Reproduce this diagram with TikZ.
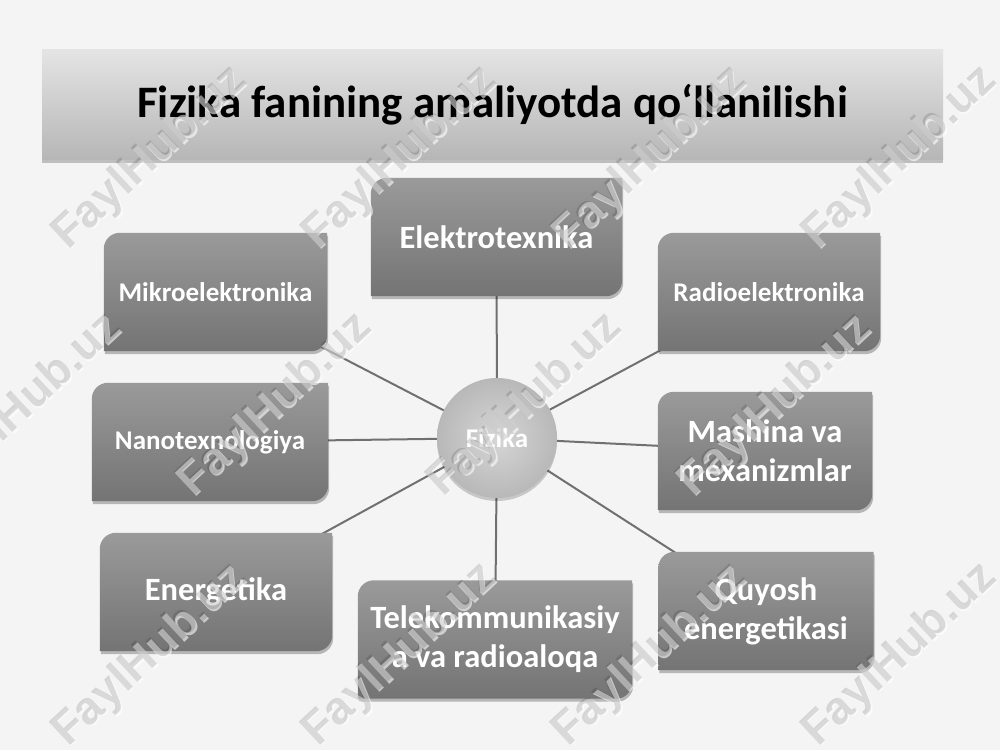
\documentclass[tikz,border=0pt]{standalone}
\usepackage{fontspec}
\setmainfont{Carlito}
\newfontfamily\wmfont{Liberation Sans}
\usetikzlibrary{shadows,calc}
\pgfdeclarelayer{back}
\pgfsetlayers{back,main}
\definecolor{bgc}{RGB}{244,244,244}
\definecolor{boxtop}{RGB}{154,154,154}
\definecolor{boxbot}{RGB}{116,116,116}
\definecolor{ttop}{RGB}{228,228,228}
\definecolor{tbot}{RGB}{182,182,182}
\definecolor{linec}{RGB}{112,112,112}
\definecolor{circin}{RGB}{214,214,214}
\definecolor{circout}{RGB}{184,184,184}
\newcommand\diagfill[1]{%
  \path[boxshade] ($(#1.north west)+(0,-16)$) arc[start angle=180,end angle=90,radius=16pt]
    -- (#1.north east) -- ($(#1.south east)+(0,16)$) arc[start angle=0,end angle=-90,radius=16pt]
    -- (#1.south west) -- cycle;}
\begin{document}
\begin{tikzpicture}[x=1pt,y=1pt,
  boxtext/.style={rectangle, inner sep=0pt, minimum height=118, text=white, align=center,
    font=\bfseries\fontsize{32.5}{39}\selectfont},
  smalltext/.style={boxtext, font=\bfseries\fontsize{27}{32}\selectfont},
  boxshade/.style={top color=boxtop, bottom color=boxbot,
    drop shadow={shadow xshift=1pt, shadow yshift=-3pt, opacity=.25, fill=black}},
  conn/.style={draw=linec, line width=2pt},
  wmshade/.style={rotate=43, font=\wmfont\bfseries\fontsize{46}{50}\selectfont, text=white, text opacity=.6},
  wmtext/.style={rotate=43, font=\wmfont\bfseries\fontsize{46}{50}\selectfont, text=black, text opacity=.13},
]
\useasboundingbox (0,0) rectangle (1000,750);

% title
\node[rectangle, minimum width=901, minimum height=110, inner sep=0pt,
  top color=ttop, bottom color=tbot,
  drop shadow={shadow xshift=0pt, shadow yshift=-3pt, opacity=.22, fill=black},
  font=\bfseries\fontsize{45}{50}\selectfont, text=black] (title) at (492.5,645)
  {Fizika fanining amaliyotda qo‘llanilishi};

% box texts
\node[boxtext, minimum width=251] (elek) at (496.5,513) {Elektrotexnika};
\node[smalltext, minimum width=223] (mik) at (215.5,458) {Mikroelektronika};
\node[smalltext, minimum width=222] (rad) at (769,458) {Radioelektronika};
\node[smalltext, minimum width=236] (nano) at (210,308) {Nanotexnologiya};
\node[boxtext, minimum width=214] (mash) at (765,299) {Mashina va\\mexanizmlar};
\node[boxtext, minimum width=232] (ener) at (216,158) {Energetika};
\node[boxtext, minimum width=274] (tele) at (495,110.5) {Telekommunikasiy\\a va radioaloqa};
\node[boxtext, minimum width=215] (quy) at (766,139) {Quyosh\\energetikasi};

% centre
\node[circle, minimum size=120, inner sep=0pt, inner color=circin, outer color=circout,
  drop shadow={shadow xshift=0pt, shadow yshift=-3pt, opacity=.18, fill=black},
  text=white, font=\bfseries\fontsize{27}{32}\selectfont] (fiz) at (497,312) {Fizika};

\begin{pgfonlayer}{back}
  \fill[bgc] (0,0) rectangle (1000,750);
  \foreach \n in {elek,mik,rad,nano,mash,ener,tele,quy}
    \draw[conn] (fiz.center) -- (\n.center);
  \foreach \n in {elek,mik,rad,nano,mash,ener,tele,quy}
    \diagfill{\n};
\end{pgfonlayer}

% watermarks
\foreach \x/\y [count=\i] in {150/592,400/592,650/592,900/592,25/345,275/345,525/345,775/345,150/95,400/95,650/95,900/95}{
  \node[wmshade] (wms\i) at (\x+1.5,\y-1.5) {FaylHub.uz};
  \node[wmtext] (wm\i) at (\x,\y) {FaylHub.uz};
}
\end{tikzpicture}
\end{document}
